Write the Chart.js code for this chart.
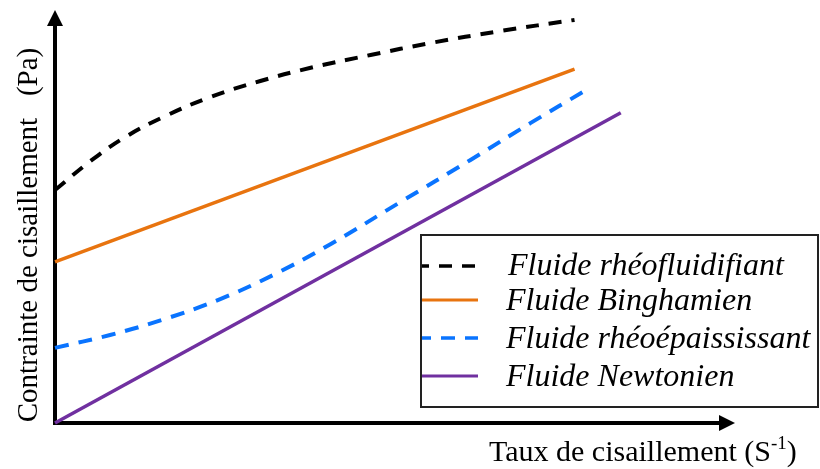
<!DOCTYPE html>
<html><head><meta charset="utf-8">
<script src="https://cdn.jsdelivr.net/npm/chart.js@4/dist/chart.umd.min.js"></script>
<style>html,body{margin:0;padding:0;background:#fff;}#wrap{width:820px;height:469px;position:relative}</style>
</head><body><div id="wrap"><canvas id="c" width="820" height="469"></canvas></div>
<script>
// ---- data (abstract units) ----
const seriesLabels = ['Fluide rhéofluidifiant', 'Fluide Binghamien', 'Fluide rhéoépaississant', 'Fluide Newtonien'];
const rheofluidX = [0, 0.52, 1.03, 1.62, 2.28, 3.02, 3.76, 4.64, 5.52, 6.55, 7.64];
const rheofluidY = [5.64, 6.34, 6.92, 7.43, 7.89, 8.28, 8.60, 8.91, 9.20, 9.49, 9.76];
const binghamX = [0, 7.64];
const binghamY = [3.90, 8.57];
const rheoepaisX = [0, 0.81, 1.62, 2.43, 3.24, 4.05, 5.08, 6.11, 6.99, 7.81];
const rheoepaisY = [1.82, 2.13, 2.52, 3.00, 3.61, 4.33, 5.35, 6.37, 7.26, 8.06];
const newtonX = [0, 8.32];
const newtonY = [0, 7.51];
const xAxisTitle = 'Taux de cisaillement (S';
const xAxisTitleSup = '-1';
const xAxisTitleEnd = ')';
const yAxisTitle = 'Contrainte de cisaillement   (Pa)';

const zip = (xs, ys) => xs.map((x, i) => ({x: x, y: ys[i]}));
const SERIF = '"Liberation Serif", "Times New Roman", serif';

const axesPlugin = {
  id: 'arrowAxes',
  beforeDatasetsDraw(chart) {
    const ctx = chart.ctx, a = chart.chartArea;
    ctx.save();
    ctx.strokeStyle = '#000'; ctx.fillStyle = '#000'; ctx.lineWidth = 4; ctx.lineCap = 'butt';
    ctx.beginPath(); ctx.moveTo(a.left, a.bottom + 2); ctx.lineTo(a.left, a.top + 14); ctx.stroke();
    ctx.beginPath(); ctx.moveTo(a.left, a.top); ctx.lineTo(a.left - 8, a.top + 16); ctx.lineTo(a.left + 8, a.top + 16); ctx.closePath(); ctx.fill();
    ctx.beginPath(); ctx.moveTo(a.left - 2, a.bottom); ctx.lineTo(a.right - 14, a.bottom); ctx.stroke();
    ctx.beginPath(); ctx.moveTo(a.right, a.bottom); ctx.lineTo(a.right - 16, a.bottom - 8); ctx.lineTo(a.right - 16, a.bottom + 8); ctx.closePath(); ctx.fill();
    ctx.restore();
  },
  afterDraw(chart) {
    const ctx = chart.ctx;
    ctx.save();
    ctx.fillStyle = '#000';
    // x title
    ctx.textBaseline = 'alphabetic'; ctx.textAlign = 'left';
    let x = 489, y = 461;
    ctx.font = '30px ' + SERIF;
    ctx.fillText(xAxisTitle, x, y); x += ctx.measureText(xAxisTitle).width;
    ctx.font = '19px ' + SERIF;
    ctx.fillText(xAxisTitleSup, x, y - 12); x += ctx.measureText(xAxisTitleSup).width;
    ctx.font = '30px ' + SERIF;
    ctx.fillText(xAxisTitleEnd, x, y);
    // y title
    ctx.translate(37, 235); ctx.rotate(-Math.PI / 2);
    ctx.textAlign = 'center';
    ctx.font = '29px ' + SERIF;
    ctx.fillText(yAxisTitle, 0, 0);
    ctx.restore();
    // legend box
    ctx.save();
    ctx.strokeStyle = '#222'; ctx.lineWidth = 2;
    ctx.strokeRect(421, 235, 397, 172);
    const rows = [266, 300, 338, 376];
    const dashOffsets = [6, 0, 5, 0];
    chart.data.datasets.forEach((ds, i) => {
      const ly = rows[i];
      ctx.save();
      ctx.strokeStyle = ds.borderColor; ctx.lineWidth = ds.borderWidth - 0.5;
      ctx.setLineDash(ds.borderDash || []);
      ctx.lineDashOffset = dashOffsets[i];
      ctx.beginPath(); ctx.moveTo(422, ly); ctx.lineTo(478, ly); ctx.stroke();
      ctx.restore();
      ctx.fillStyle = '#000';
      ctx.font = 'italic 32px ' + SERIF;
      ctx.textAlign = 'left'; ctx.textBaseline = 'alphabetic';
      ctx.fillText(ds.label, i === 0 ? 508 : 506, rows[i] + (i === 0 ? 9 : 10));
    });
    ctx.restore();
  }
};

new Chart(document.getElementById('c'), {
  type: 'line',
  data: {
    datasets: [
      {label: seriesLabels[0], data: zip(rheofluidX, rheofluidY), borderColor: '#000000', borderWidth: 4, borderDash: [13, 10], tension: 0.4, clip: false},
      {label: seriesLabels[1], data: zip(binghamX, binghamY), borderColor: '#E8740F', borderWidth: 3.5, clip: false},
      {label: seriesLabels[2], data: zip(rheoepaisX, rheoepaisY), borderColor: '#0A74FF', borderWidth: 4, borderDash: [14, 10], tension: 0.4, clip: false},
      {label: seriesLabels[3], data: zip(newtonX, newtonY), borderColor: '#7030A0', borderWidth: 3.5, clip: false}
    ]
  },
  options: {
    responsive: false, animation: false,
    layout: {padding: {left: 55, right: 85, top: 10, bottom: 46}},
    elements: {point: {radius: 0, hoverRadius: 0}},
    scales: {
      x: {type: 'linear', min: 0, max: 10, display: false},
      y: {type: 'linear', min: 0, max: 10, display: false}
    },
    plugins: {legend: {display: false}, tooltip: {enabled: false}}
  },
  plugins: [axesPlugin]
});
</script></body></html>
